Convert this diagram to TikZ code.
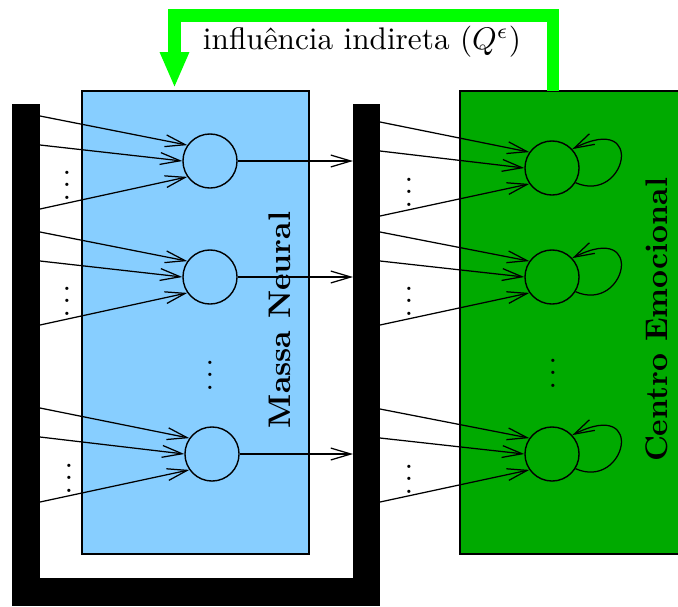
\documentclass[tikz,border=0pt]{standalone}
\usepackage{fontspec}
\usetikzlibrary{arrows.meta,calc}
\definecolor{neuralblue}{RGB}{135,206,255}
\definecolor{emogreen}{RGB}{0,170,0}
\definecolor{brightgreen}{RGB}{0,255,0}
\begin{document}
\begin{tikzpicture}[x=0.32pt,y=-0.32pt,
  arr/.style={-{Straight Barb[length=6.4pt,width=3.8pt]}, line width=0.4pt},
  neuron/.style={circle,draw,line width=0.45pt,inner sep=0pt,minimum size=17.3pt},
  region/.style={draw,line width=0.6pt,inner sep=0pt,minimum width=72.64pt,minimum height=148.16pt},
  infl/.style={brightgreen,line width=4pt,line join=miter,-{Triangle[length=11.5pt,width=8.6pt]}},
  dotsnode/.style={inner sep=0pt,anchor=base},
  label/.style={font=\bfseries,rotate=90,inner sep=0pt}]
\useasboundingbox (0,0) rectangle (678,606);
% black U-shaped bar
\fill (12,104) rectangle (40,606);
\fill (353,104) rectangle (380,606);
\fill (12,578) rectangle (380,606);
\coordinate (lbar) at (40,0);
\coordinate (rbarin) at (353,0);
\coordinate (rbarout) at (380,0);
% regions
\node[region,fill=neuralblue] (mn) at (195.5,322.5) {};
\node[region,fill=emogreen,minimum width=72pt] (ce) at (572.5,322.5) {};
% labels
\node[label] at (280,320) {Massa Neural};
\node[label] at (657,320) {Centro Emocional};
% neurons
\node[neuron] (b1) at (210,161) {};
\node[neuron] (b2) at (210,277) {};
\node[neuron] (b3) at (212,454) {};
\node[neuron] (g1) at (552,168) {};
\node[neuron] (g2) at (552,277) {};
\node[neuron] (g3) at (552,454) {};
% inputs to Massa Neural
\foreach \n/\ya/\yb/\yc in {b1/116/145/209, b2/232/261/325, b3/408/437/502} {
  \coordinate (\n-i1) at (40,\ya);
  \coordinate (\n-i2) at (40,\yb);
  \coordinate (\n-i3) at (40,\yc);
  \draw[arr] (\n-i1) -- (\n.145);
  \draw[arr] (\n-i2) -- (\n.180);
  \draw[arr] (\n-i3) -- (\n.215);
  \draw[arr] (\n.east) -- (\n.east -| rbarin);
}
% inputs to Centro Emocional
\foreach \n/\ya/\yb/\yc in {g1/122/151/216, g2/232/261/325, g3/409/438/502} {
  \coordinate (\n-i1) at (380,\ya);
  \coordinate (\n-i2) at (380,\yb);
  \coordinate (\n-i3) at (380,\yc);
  \draw[arr] (\n-i1) -- (\n.145);
  \draw[arr] (\n-i2) -- (\n.180);
  \draw[arr] (\n-i3) -- (\n.215);
  \draw[arr] (\n.-32) .. controls +(50,22) and +(75,-38) .. (\n.43);
}
% dots
\node[dotsnode] (d1) at (67,199) {$\vdots$};
\node[dotsnode] (d2) at (67,315) {$\vdots$};
\node[dotsnode] (d3) at (69,492) {$\vdots$};
\node[dotsnode] (d4) at (409,206) {$\vdots$};
\node[dotsnode] (d5) at (409,315) {$\vdots$};
\node[dotsnode] (d6) at (409,493) {$\vdots$};
\node[dotsnode] (d7) at (210,389) {$\vdots$};
\node[dotsnode] (d8) at (553,387) {$\vdots$};
% indirect influence
\coordinate (cetop) at (553,91);
\coordinate (mntop) at (174.5,88);
\draw[infl] (cetop) -- (553,15.5) -- (174.5,15.5) -- (mntop);
\node (inf) at (362,42) {influência indireta ($Q^\epsilon$)};
\end{tikzpicture}
\end{document}
